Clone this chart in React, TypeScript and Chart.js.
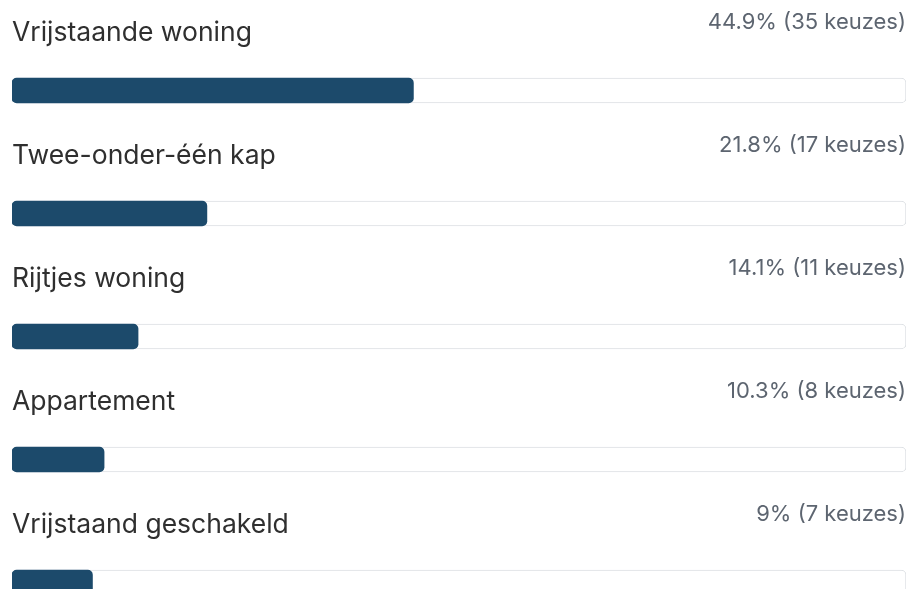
import React, { useEffect, useRef } from "react";
import { Chart, registerables } from "chart.js";

Chart.register(...registerables);

const categories = [
  "Vrijstaande woning",
  "Twee-onder-één kap",
  "Rijtjes woning",
  "Appartement",
  "Vrijstaand geschakeld",
];
const percentages = [44.9, 21.8, 14.1, 10.3, 9];
const counts = [35, 17, 11, 8, 7];
const trackValues = [100, 100, 100, 100, 100];

const textPlugin = {
  id: "rowText",
  afterDatasetsDraw(chart: any) {
    const ctx = chart.ctx;
    const meta = chart.getDatasetMeta(0);
    const area = chart.chartArea;
    ctx.save();
    meta.data.forEach((bar: any, i: number) => {
      const y = bar.y;
      ctx.textBaseline = "alphabetic";
      ctx.font = "400 26.5px Inter, 'Noto Sans', sans-serif";
      ctx.fillStyle = "#2f2f2f";
      ctx.textAlign = "left";
      ctx.fillText(categories[i], area.left, y - 50);
      ctx.font = "400 22px Inter, 'Noto Sans', sans-serif";
      ctx.fillStyle = "#5d6570";
      ctx.textAlign = "right";
      const p = percentages[i];
      ctx.fillText(`${p}% (${counts[i]} keuzes)`, area.right, y - 62);
    });
    ctx.restore();
  },
};

export default function App() {
  const ref = useRef<HTMLCanvasElement | null>(null);
  useEffect(() => {
    if (!ref.current) return;
    const chart = new Chart(ref.current, {
      type: "bar",
      data: {
        labels: categories,
        datasets: [
          {
            data: percentages,
            backgroundColor: "#1c4a6b",
            borderRadius: 5,
            borderSkipped: false,
            barThickness: 25,
            grouped: false,
            order: 0,
          } as any,
          {
            data: trackValues,
            backgroundColor: "#ffffff",
            borderColor: "#dcdfe3",
            borderWidth: 1,
            borderRadius: 5,
            borderSkipped: false,
            barThickness: 25,
            grouped: false,
            order: 1,
          } as any,
        ],
      },
      options: {
        indexAxis: "y",
        responsive: false,
        animation: false,
        layout: { padding: { top: 29, bottom: 6, left: 12, right: 4 } },
        plugins: { legend: { display: false }, tooltip: { enabled: false } },
        scales: {
          x: { min: 0, max: 100, display: false },
          y: { display: false },
        },
      },
      plugins: [textPlugin],
    });
    return () => chart.destroy();
  }, []);
  return (
    <div style={{ position: "fixed", left: 0, top: 0, width: 910, height: 589, overflow: "hidden", background: "#fff" }}>
      <canvas ref={ref} width={910} height={650} style={{ display: "block" }} />
    </div>
  );
}
